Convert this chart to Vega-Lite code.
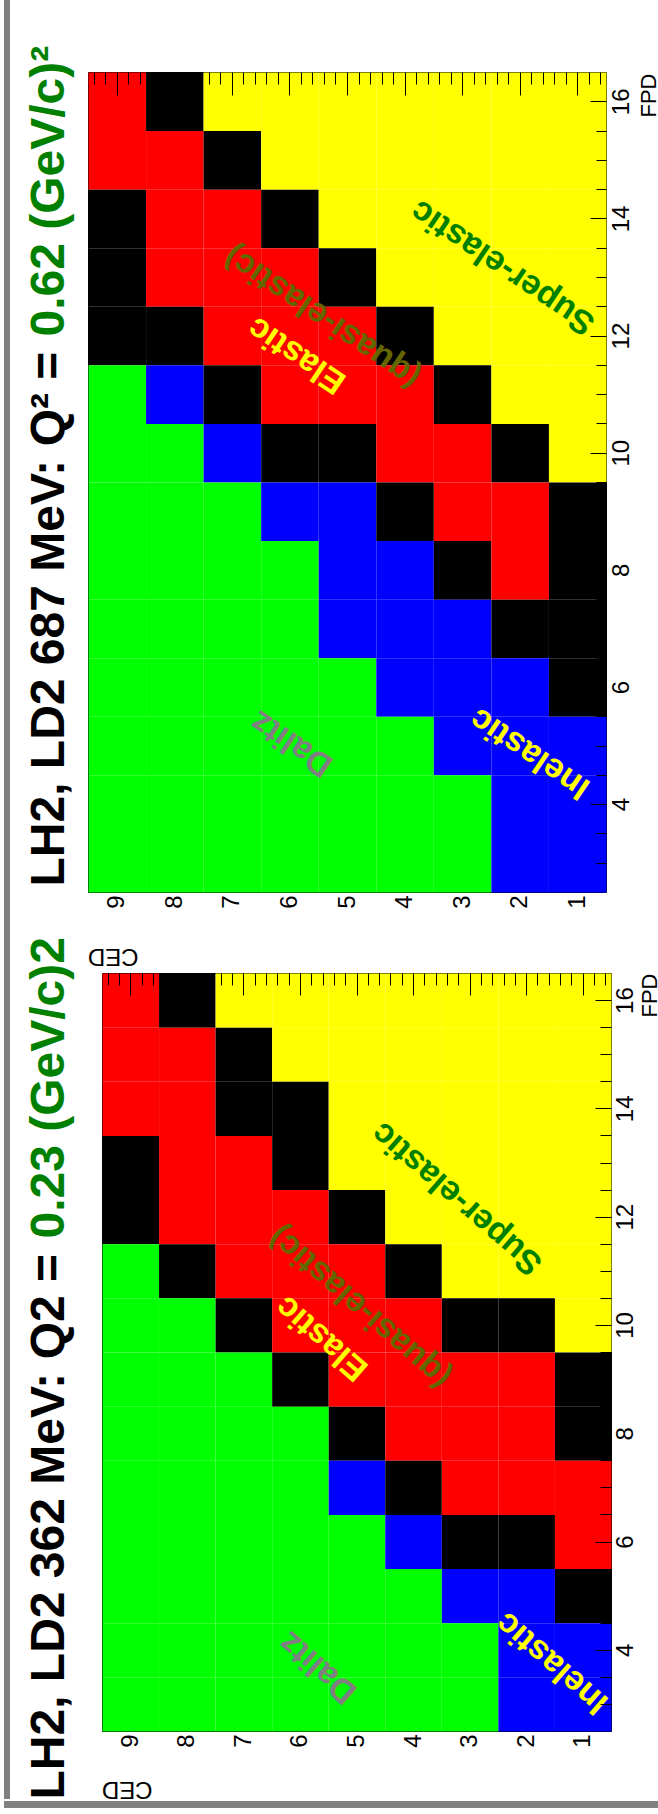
{
  "$schema": "https://vega.github.io/schema/vega-lite/v6.json",
  "background": "white",
  "padding": {"left": 4, "top": 0, "right": 0, "bottom": 0},
  "spacing": 0,
  "config": {
    "view": {"stroke": "black", "strokeWidth": 1},
    "axis": {"grid": false, "labelFont": "Liberation Sans", "titleFont": "Liberation Sans", "labelColor": "black", "titleColor": "black", "tickColor": "black", "tickWidth": 1},
    "text": {"font": "Liberation Sans"}
  },
  "datasets": {
    "cells687": [
      {"ced":9,"fpd":16,"region":"elastic"},{"ced":8,"fpd":16,"region":"edge"},{"ced":7,"fpd":16,"region":"super"},{"ced":6,"fpd":16,"region":"super"},{"ced":5,"fpd":16,"region":"super"},{"ced":4,"fpd":16,"region":"super"},{"ced":3,"fpd":16,"region":"super"},{"ced":2,"fpd":16,"region":"super"},{"ced":1,"fpd":16,"region":"super"},
      {"ced":9,"fpd":15,"region":"elastic"},{"ced":8,"fpd":15,"region":"elastic"},{"ced":7,"fpd":15,"region":"edge"},{"ced":6,"fpd":15,"region":"super"},{"ced":5,"fpd":15,"region":"super"},{"ced":4,"fpd":15,"region":"super"},{"ced":3,"fpd":15,"region":"super"},{"ced":2,"fpd":15,"region":"super"},{"ced":1,"fpd":15,"region":"super"},
      {"ced":9,"fpd":14,"region":"edge"},{"ced":8,"fpd":14,"region":"elastic"},{"ced":7,"fpd":14,"region":"elastic"},{"ced":6,"fpd":14,"region":"edge"},{"ced":5,"fpd":14,"region":"super"},{"ced":4,"fpd":14,"region":"super"},{"ced":3,"fpd":14,"region":"super"},{"ced":2,"fpd":14,"region":"super"},{"ced":1,"fpd":14,"region":"super"},
      {"ced":9,"fpd":13,"region":"edge"},{"ced":8,"fpd":13,"region":"elastic"},{"ced":7,"fpd":13,"region":"elastic"},{"ced":6,"fpd":13,"region":"elastic"},{"ced":5,"fpd":13,"region":"edge"},{"ced":4,"fpd":13,"region":"super"},{"ced":3,"fpd":13,"region":"super"},{"ced":2,"fpd":13,"region":"super"},{"ced":1,"fpd":13,"region":"super"},
      {"ced":9,"fpd":12,"region":"edge"},{"ced":8,"fpd":12,"region":"edge"},{"ced":7,"fpd":12,"region":"elastic"},{"ced":6,"fpd":12,"region":"elastic"},{"ced":5,"fpd":12,"region":"elastic"},{"ced":4,"fpd":12,"region":"edge"},{"ced":3,"fpd":12,"region":"super"},{"ced":2,"fpd":12,"region":"super"},{"ced":1,"fpd":12,"region":"super"},
      {"ced":9,"fpd":11,"region":"dalitz"},{"ced":8,"fpd":11,"region":"inelastic"},{"ced":7,"fpd":11,"region":"edge"},{"ced":6,"fpd":11,"region":"elastic"},{"ced":5,"fpd":11,"region":"elastic"},{"ced":4,"fpd":11,"region":"elastic"},{"ced":3,"fpd":11,"region":"edge"},{"ced":2,"fpd":11,"region":"super"},{"ced":1,"fpd":11,"region":"super"},
      {"ced":9,"fpd":10,"region":"dalitz"},{"ced":8,"fpd":10,"region":"dalitz"},{"ced":7,"fpd":10,"region":"inelastic"},{"ced":6,"fpd":10,"region":"edge"},{"ced":5,"fpd":10,"region":"edge"},{"ced":4,"fpd":10,"region":"elastic"},{"ced":3,"fpd":10,"region":"elastic"},{"ced":2,"fpd":10,"region":"edge"},{"ced":1,"fpd":10,"region":"super"},
      {"ced":9,"fpd":9,"region":"dalitz"},{"ced":8,"fpd":9,"region":"dalitz"},{"ced":7,"fpd":9,"region":"dalitz"},{"ced":6,"fpd":9,"region":"inelastic"},{"ced":5,"fpd":9,"region":"inelastic"},{"ced":4,"fpd":9,"region":"edge"},{"ced":3,"fpd":9,"region":"elastic"},{"ced":2,"fpd":9,"region":"elastic"},{"ced":1,"fpd":9,"region":"edge"},
      {"ced":9,"fpd":8,"region":"dalitz"},{"ced":8,"fpd":8,"region":"dalitz"},{"ced":7,"fpd":8,"region":"dalitz"},{"ced":6,"fpd":8,"region":"dalitz"},{"ced":5,"fpd":8,"region":"inelastic"},{"ced":4,"fpd":8,"region":"inelastic"},{"ced":3,"fpd":8,"region":"edge"},{"ced":2,"fpd":8,"region":"elastic"},{"ced":1,"fpd":8,"region":"edge"},
      {"ced":9,"fpd":7,"region":"dalitz"},{"ced":8,"fpd":7,"region":"dalitz"},{"ced":7,"fpd":7,"region":"dalitz"},{"ced":6,"fpd":7,"region":"dalitz"},{"ced":5,"fpd":7,"region":"inelastic"},{"ced":4,"fpd":7,"region":"inelastic"},{"ced":3,"fpd":7,"region":"inelastic"},{"ced":2,"fpd":7,"region":"edge"},{"ced":1,"fpd":7,"region":"edge"},
      {"ced":9,"fpd":6,"region":"dalitz"},{"ced":8,"fpd":6,"region":"dalitz"},{"ced":7,"fpd":6,"region":"dalitz"},{"ced":6,"fpd":6,"region":"dalitz"},{"ced":5,"fpd":6,"region":"dalitz"},{"ced":4,"fpd":6,"region":"inelastic"},{"ced":3,"fpd":6,"region":"inelastic"},{"ced":2,"fpd":6,"region":"inelastic"},{"ced":1,"fpd":6,"region":"edge"},
      {"ced":9,"fpd":5,"region":"dalitz"},{"ced":8,"fpd":5,"region":"dalitz"},{"ced":7,"fpd":5,"region":"dalitz"},{"ced":6,"fpd":5,"region":"dalitz"},{"ced":5,"fpd":5,"region":"dalitz"},{"ced":4,"fpd":5,"region":"dalitz"},{"ced":3,"fpd":5,"region":"inelastic"},{"ced":2,"fpd":5,"region":"inelastic"},{"ced":1,"fpd":5,"region":"inelastic"},
      {"ced":9,"fpd":4,"region":"dalitz"},{"ced":8,"fpd":4,"region":"dalitz"},{"ced":7,"fpd":4,"region":"dalitz"},{"ced":6,"fpd":4,"region":"dalitz"},{"ced":5,"fpd":4,"region":"dalitz"},{"ced":4,"fpd":4,"region":"dalitz"},{"ced":3,"fpd":4,"region":"dalitz"},{"ced":2,"fpd":4,"region":"inelastic"},{"ced":1,"fpd":4,"region":"inelastic"},
      {"ced":9,"fpd":3,"region":"dalitz"},{"ced":8,"fpd":3,"region":"dalitz"},{"ced":7,"fpd":3,"region":"dalitz"},{"ced":6,"fpd":3,"region":"dalitz"},{"ced":5,"fpd":3,"region":"dalitz"},{"ced":4,"fpd":3,"region":"dalitz"},{"ced":3,"fpd":3,"region":"dalitz"},{"ced":2,"fpd":3,"region":"inelastic"},{"ced":1,"fpd":3,"region":"inelastic"}
    ],
    "cells362": [
      {"ced":9,"fpd":16,"region":"elastic"},{"ced":8,"fpd":16,"region":"edge"},{"ced":7,"fpd":16,"region":"super"},{"ced":6,"fpd":16,"region":"super"},{"ced":5,"fpd":16,"region":"super"},{"ced":4,"fpd":16,"region":"super"},{"ced":3,"fpd":16,"region":"super"},{"ced":2,"fpd":16,"region":"super"},{"ced":1,"fpd":16,"region":"super"},
      {"ced":9,"fpd":15,"region":"elastic"},{"ced":8,"fpd":15,"region":"elastic"},{"ced":7,"fpd":15,"region":"edge"},{"ced":6,"fpd":15,"region":"super"},{"ced":5,"fpd":15,"region":"super"},{"ced":4,"fpd":15,"region":"super"},{"ced":3,"fpd":15,"region":"super"},{"ced":2,"fpd":15,"region":"super"},{"ced":1,"fpd":15,"region":"super"},
      {"ced":9,"fpd":14,"region":"elastic"},{"ced":8,"fpd":14,"region":"elastic"},{"ced":7,"fpd":14,"region":"edge"},{"ced":6,"fpd":14,"region":"edge"},{"ced":5,"fpd":14,"region":"super"},{"ced":4,"fpd":14,"region":"super"},{"ced":3,"fpd":14,"region":"super"},{"ced":2,"fpd":14,"region":"super"},{"ced":1,"fpd":14,"region":"super"},
      {"ced":9,"fpd":13,"region":"edge"},{"ced":8,"fpd":13,"region":"elastic"},{"ced":7,"fpd":13,"region":"elastic"},{"ced":6,"fpd":13,"region":"edge"},{"ced":5,"fpd":13,"region":"super"},{"ced":4,"fpd":13,"region":"super"},{"ced":3,"fpd":13,"region":"super"},{"ced":2,"fpd":13,"region":"super"},{"ced":1,"fpd":13,"region":"super"},
      {"ced":9,"fpd":12,"region":"edge"},{"ced":8,"fpd":12,"region":"elastic"},{"ced":7,"fpd":12,"region":"elastic"},{"ced":6,"fpd":12,"region":"elastic"},{"ced":5,"fpd":12,"region":"edge"},{"ced":4,"fpd":12,"region":"super"},{"ced":3,"fpd":12,"region":"super"},{"ced":2,"fpd":12,"region":"super"},{"ced":1,"fpd":12,"region":"super"},
      {"ced":9,"fpd":11,"region":"dalitz"},{"ced":8,"fpd":11,"region":"edge"},{"ced":7,"fpd":11,"region":"elastic"},{"ced":6,"fpd":11,"region":"elastic"},{"ced":5,"fpd":11,"region":"elastic"},{"ced":4,"fpd":11,"region":"edge"},{"ced":3,"fpd":11,"region":"super"},{"ced":2,"fpd":11,"region":"super"},{"ced":1,"fpd":11,"region":"super"},
      {"ced":9,"fpd":10,"region":"dalitz"},{"ced":8,"fpd":10,"region":"dalitz"},{"ced":7,"fpd":10,"region":"edge"},{"ced":6,"fpd":10,"region":"elastic"},{"ced":5,"fpd":10,"region":"elastic"},{"ced":4,"fpd":10,"region":"elastic"},{"ced":3,"fpd":10,"region":"edge"},{"ced":2,"fpd":10,"region":"edge"},{"ced":1,"fpd":10,"region":"super"},
      {"ced":9,"fpd":9,"region":"dalitz"},{"ced":8,"fpd":9,"region":"dalitz"},{"ced":7,"fpd":9,"region":"dalitz"},{"ced":6,"fpd":9,"region":"edge"},{"ced":5,"fpd":9,"region":"elastic"},{"ced":4,"fpd":9,"region":"elastic"},{"ced":3,"fpd":9,"region":"elastic"},{"ced":2,"fpd":9,"region":"elastic"},{"ced":1,"fpd":9,"region":"edge"},
      {"ced":9,"fpd":8,"region":"dalitz"},{"ced":8,"fpd":8,"region":"dalitz"},{"ced":7,"fpd":8,"region":"dalitz"},{"ced":6,"fpd":8,"region":"dalitz"},{"ced":5,"fpd":8,"region":"edge"},{"ced":4,"fpd":8,"region":"elastic"},{"ced":3,"fpd":8,"region":"elastic"},{"ced":2,"fpd":8,"region":"elastic"},{"ced":1,"fpd":8,"region":"edge"},
      {"ced":9,"fpd":7,"region":"dalitz"},{"ced":8,"fpd":7,"region":"dalitz"},{"ced":7,"fpd":7,"region":"dalitz"},{"ced":6,"fpd":7,"region":"dalitz"},{"ced":5,"fpd":7,"region":"inelastic"},{"ced":4,"fpd":7,"region":"edge"},{"ced":3,"fpd":7,"region":"elastic"},{"ced":2,"fpd":7,"region":"elastic"},{"ced":1,"fpd":7,"region":"elastic"},
      {"ced":9,"fpd":6,"region":"dalitz"},{"ced":8,"fpd":6,"region":"dalitz"},{"ced":7,"fpd":6,"region":"dalitz"},{"ced":6,"fpd":6,"region":"dalitz"},{"ced":5,"fpd":6,"region":"dalitz"},{"ced":4,"fpd":6,"region":"inelastic"},{"ced":3,"fpd":6,"region":"edge"},{"ced":2,"fpd":6,"region":"edge"},{"ced":1,"fpd":6,"region":"elastic"},
      {"ced":9,"fpd":5,"region":"dalitz"},{"ced":8,"fpd":5,"region":"dalitz"},{"ced":7,"fpd":5,"region":"dalitz"},{"ced":6,"fpd":5,"region":"dalitz"},{"ced":5,"fpd":5,"region":"dalitz"},{"ced":4,"fpd":5,"region":"dalitz"},{"ced":3,"fpd":5,"region":"inelastic"},{"ced":2,"fpd":5,"region":"inelastic"},{"ced":1,"fpd":5,"region":"edge"},
      {"ced":9,"fpd":4,"region":"dalitz"},{"ced":8,"fpd":4,"region":"dalitz"},{"ced":7,"fpd":4,"region":"dalitz"},{"ced":6,"fpd":4,"region":"dalitz"},{"ced":5,"fpd":4,"region":"dalitz"},{"ced":4,"fpd":4,"region":"dalitz"},{"ced":3,"fpd":4,"region":"dalitz"},{"ced":2,"fpd":4,"region":"inelastic"},{"ced":1,"fpd":4,"region":"inelastic"},
      {"ced":9,"fpd":3,"region":"dalitz"},{"ced":8,"fpd":3,"region":"dalitz"},{"ced":7,"fpd":3,"region":"dalitz"},{"ced":6,"fpd":3,"region":"dalitz"},{"ced":5,"fpd":3,"region":"dalitz"},{"ced":4,"fpd":3,"region":"dalitz"},{"ced":3,"fpd":3,"region":"dalitz"},{"ced":2,"fpd":3,"region":"inelastic"},{"ced":1,"fpd":3,"region":"inelastic"}
    ],
    "notes687": [
      {"label":"Super-elastic","ced":2.29,"fpd":13.17},
      {"label":"(quasi-elastic)","ced":5.43,"fpd":12.32},
      {"label":"Elastic","ced":5.87,"fpd":11.67},
      {"label":"Dalitz","ced":5.96,"fpd":5.04},
      {"label":"Inelastic","ced":1.82,"fpd":4.87}
    ],
    "notes362": [
      {"label":"Super-elastic","ced":3.22,"fpd":12.34},
      {"label":"(quasi-elastic)","ced":4.94,"fpd":10.33},
      {"label":"Elastic","ced":5.61,"fpd":9.76},
      {"label":"Dalitz","ced":5.68,"fpd":3.68},
      {"label":"Inelastic","ced":1.54,"fpd":3.76}
    ]
  },
  "vconcat": [
    {
      "bounds": "flush",
      "spacing": 78,
      "hconcat": [
        {"width": 6, "height": 1799, "data": {"values": []}, "mark": "point", "encoding": {}, "view": {"fill": "#808080", "stroke": null}},
        {
          "bounds": "flush",
          "spacing": 0,
          "vconcat": [
            {"width": 10, "height": 72, "data": {"values": []}, "mark": "point", "encoding": {}, "view": {"fill": "white", "stroke": null}},
            {
              "bounds": "flush",
              "spacing": 81,
              "vconcat": [
                {
                  "width": 518,
                  "height": 820,
                  "data": {"name": "cells687"},
                  "layer": [
                    {
                      "mark": {"type": "rect"},
                      "encoding": {
                        "x": {"field": "ced", "type": "quantitative", "bin": {"anchor": 0.5, "step": 1, "extent": [0.5, 9.5], "nice": false}, "scale": {"domain": [0.5, 9.5], "reverse": true, "nice": false, "zero": false}, "axis": null},
                        "y": {"field": "fpd", "type": "quantitative", "bin": {"anchor": 0.5, "step": 1, "extent": [2.5, 16.5], "nice": false}, "scale": {"domain": [2.5, 16.5], "nice": false, "zero": false}, "axis": null},
                        "color": {"field": "region", "type": "nominal", "scale": {"domain": ["elastic", "edge", "super", "dalitz", "inelastic"], "range": ["#ff0000", "#000000", "#ffff00", "#00ff00", "#0000ff"]}, "legend": null}
                      }
                    },
                    {
                      "mark": {"type": "point", "opacity": 0},
                      "encoding": {
                        "x": {"field": "ced", "type": "quantitative", "scale": {"domain": [0.5, 9.5], "reverse": true, "nice": false, "zero": false},
                              "axis": {"values": [1, 2, 3, 4, 5, 6, 7, 8, 9], "format": "d", "ticks": false, "domain": false, "labelAngle": -90, "labelAlign": "right", "labelBaseline": "middle", "labelPadding": 3, "labelFontSize": 24, "labelFlush": false, "labelOverlap": false,
                                       "title": "CED", "titleFontSize": 24, "titleFontWeight": "normal", "titleAngle": 180, "titleAlign": "left", "titleBaseline": "alphabetic", "titleX": 50, "titleY": 56}},
                        "y": {"field": "fpd", "type": "quantitative", "scale": {"domain": [2.5, 16.5], "nice": false, "zero": false},
                              "axis": {"orient": "right", "values": [4, 6, 8, 10, 12, 14, 16], "format": "d", "ticks": false, "domain": false, "labelAngle": -90, "labelAlign": "center", "labelBaseline": "top", "labelPadding": 3, "labelFontSize": 24, "labelFlush": false, "labelOverlap": false,
                                       "title": "FPD", "titleFontSize": 22, "titleFontWeight": "normal", "titleAngle": -90, "titleAlign": "right", "titleBaseline": "alphabetic", "titleX": 49, "titleY": 1}}
                      }
                    },
                    {
                      "mark": {"type": "point", "opacity": 0},
                      "encoding": {
                        "x": {"field": "ced", "type": "quantitative", "scale": {"domain": [0.5, 9.5], "reverse": true, "nice": false, "zero": false},
                              "axis": {"values": [1, 2, 3, 4, 5, 6, 7, 8, 9], "labels": false, "domain": false, "tickSize": -23, "title": null, "zindex": 1}},
                        "y": {"field": "fpd", "type": "quantitative", "scale": {"domain": [2.5, 16.5], "nice": false, "zero": false},
                              "axis": {"orient": "right", "values": [4, 6, 8, 10, 12, 14, 16], "labels": false, "domain": false, "tickSize": -16, "title": null, "zindex": 1}}
                      }
                    },
                    {
                      "mark": {"type": "point", "opacity": 0},
                      "encoding": {
                        "x": {"field": "ced", "type": "quantitative", "scale": {"domain": [0.5, 9.5], "reverse": true, "nice": false, "zero": false},
                              "axis": {"values": [0.6, 0.8, 1.2, 1.4, 1.6, 1.8, 2.2, 2.4, 2.6, 2.8, 3.2, 3.4, 3.6, 3.8, 4.2, 4.4, 4.6, 4.8, 5.2, 5.4, 5.6, 5.8, 6.2, 6.4, 6.6, 6.8, 7.2, 7.4, 7.6, 7.8, 8.2, 8.4, 8.6, 8.8, 9.2, 9.4], "labels": false, "domain": false, "tickSize": -12, "title": null, "zindex": 1}},
                        "y": {"field": "fpd", "type": "quantitative", "scale": {"domain": [2.5, 16.5], "nice": false, "zero": false},
                              "axis": {"orient": "right", "values": [3, 3.5, 4.5, 5, 5.5, 6.5, 7, 7.5, 8.5, 9, 9.5, 10.5, 11, 11.5, 12.5, 13, 13.5, 14.5, 15, 15.5], "labels": false, "domain": false, "tickSize": -10, "title": null, "zindex": 1}}
                      }
                    },
                    {
                      "data": {"name": "notes687"},
                      "mark": {"type": "text", "angle": 214, "fontWeight": "bold", "align": "center", "baseline": "middle"},
                      "encoding": {
                        "x": {"field": "ced", "type": "quantitative", "scale": {"domain": [0.5, 9.5], "reverse": true, "nice": false, "zero": false}, "axis": null},
                        "y": {"field": "fpd", "type": "quantitative", "scale": {"domain": [2.5, 16.5], "nice": false, "zero": false},
                              "axis": {"orient": "left", "labels": false, "ticks": false, "domain": false, "title": "LH2, LD2 687 MeV: Q² =", "titleFontSize": 48, "titleFontWeight": "bold", "titleColor": "#000000", "titleAngle": -90, "titleAlign": "left", "titleBaseline": "alphabetic", "titleX": -25, "titleY": 814}},
                        "text": {"field": "label"},
                        "color": {"field": "label", "type": "nominal", "scale": {"domain": ["Dalitz", "Inelastic", "Elastic", "(quasi-elastic)", "Super-elastic"], "range": ["#808080", "#ffff00", "#ffff00", "#666600", "#008000"]}, "legend": null},
                        "size": {"field": "label", "type": "nominal", "scale": {"domain": ["Dalitz", "Inelastic", "Elastic", "(quasi-elastic)", "Super-elastic"], "range": [34, 34, 34, 34, 29]}, "legend": null}
                      }
                    },
                    {
                      "mark": {"type": "point", "opacity": 0},
                      "encoding": {
                        "x": {"field": "ced", "type": "quantitative", "scale": {"domain": [0.5, 9.5], "reverse": true, "nice": false, "zero": false}, "axis": null},
                        "y": {"field": "fpd", "type": "quantitative", "scale": {"domain": [2.5, 16.5], "nice": false, "zero": false},
                              "axis": {"orient": "left", "labels": false, "ticks": false, "domain": false, "title": "0.62 (GeV/c)²", "titleFontSize": 48, "titleFontWeight": "bold", "titleColor": "#008000", "titleAngle": -90, "titleAlign": "left", "titleBaseline": "alphabetic", "titleX": -25, "titleY": 264}}
                      }
                    }
                  ],
                  "resolve": {"axis": {"x": "independent", "y": "independent"}, "scale": {"color": "independent", "size": "independent"}}
                },
                {
                  "bounds": "flush",
                  "spacing": 0,
                  "hconcat": [
                    {"width": 14, "height": 10, "data": {"values": []}, "mark": "point", "encoding": {}, "view": {"stroke": null}},
                    {
                      "width": 509,
                      "height": 758,
                      "data": {"name": "cells362"},
                      "layer": [
                        {
                          "mark": {"type": "rect"},
                          "encoding": {
                            "x": {"field": "ced", "type": "quantitative", "bin": {"anchor": 0.5, "step": 1, "extent": [0.5, 9.5], "nice": false}, "scale": {"domain": [0.5, 9.5], "reverse": true, "nice": false, "zero": false}, "axis": null},
                            "y": {"field": "fpd", "type": "quantitative", "bin": {"anchor": 0.5, "step": 1, "extent": [2.5, 16.5], "nice": false}, "scale": {"domain": [2.5, 16.5], "nice": false, "zero": false}, "axis": null},
                            "color": {"field": "region", "type": "nominal", "scale": {"domain": ["elastic", "edge", "super", "dalitz", "inelastic"], "range": ["#ff0000", "#000000", "#ffff00", "#00ff00", "#0000ff"]}, "legend": null}
                          }
                        },
                        {
                          "mark": {"type": "point", "opacity": 0},
                          "encoding": {
                            "x": {"field": "ced", "type": "quantitative", "scale": {"domain": [0.5, 9.5], "reverse": true, "nice": false, "zero": false},
                                  "axis": {"values": [1, 2, 3, 4, 5, 6, 7, 8, 9], "format": "d", "ticks": false, "domain": false, "labelAngle": -90, "labelAlign": "right", "labelBaseline": "middle", "labelPadding": 3, "labelFontSize": 24, "labelFlush": false, "labelOverlap": false,
                                           "title": "CED", "titleFontSize": 24, "titleFontWeight": "normal", "titleAngle": 180, "titleAlign": "left", "titleBaseline": "alphabetic", "titleX": 50, "titleY": 50}},
                            "y": {"field": "fpd", "type": "quantitative", "scale": {"domain": [2.5, 16.5], "nice": false, "zero": false},
                                  "axis": {"orient": "right", "values": [4, 6, 8, 10, 12, 14, 16], "format": "d", "ticks": false, "domain": false, "labelAngle": -90, "labelAlign": "center", "labelBaseline": "top", "labelPadding": 2, "labelFontSize": 24, "labelFlush": false, "labelOverlap": false,
                                           "title": "FPD", "titleFontSize": 22, "titleFontWeight": "normal", "titleAngle": -90, "titleAlign": "right", "titleBaseline": "alphabetic", "titleX": 45, "titleY": 0}}
                          }
                        },
                        {
                          "mark": {"type": "point", "opacity": 0},
                          "encoding": {
                            "x": {"field": "ced", "type": "quantitative", "scale": {"domain": [0.5, 9.5], "reverse": true, "nice": false, "zero": false},
                                  "axis": {"values": [1, 2, 3, 4, 5, 6, 7, 8, 9], "labels": false, "domain": false, "tickSize": -22, "title": null, "zindex": 1}},
                            "y": {"field": "fpd", "type": "quantitative", "scale": {"domain": [2.5, 16.5], "nice": false, "zero": false},
                                  "axis": {"orient": "right", "values": [4, 6, 8, 10, 12, 14, 16], "labels": false, "domain": false, "tickSize": -16, "title": null, "zindex": 1}}
                          }
                        },
                        {
                          "mark": {"type": "point", "opacity": 0},
                          "encoding": {
                            "x": {"field": "ced", "type": "quantitative", "scale": {"domain": [0.5, 9.5], "reverse": true, "nice": false, "zero": false},
                                  "axis": {"values": [0.6, 0.8, 1.2, 1.4, 1.6, 1.8, 2.2, 2.4, 2.6, 2.8, 3.2, 3.4, 3.6, 3.8, 4.2, 4.4, 4.6, 4.8, 5.2, 5.4, 5.6, 5.8, 6.2, 6.4, 6.6, 6.8, 7.2, 7.4, 7.6, 7.8, 8.2, 8.4, 8.6, 8.8, 9.2, 9.4], "labels": false, "domain": false, "tickSize": -12, "title": null, "zindex": 1}},
                            "y": {"field": "fpd", "type": "quantitative", "scale": {"domain": [2.5, 16.5], "nice": false, "zero": false},
                                  "axis": {"orient": "right", "values": [3, 3.5, 4.5, 5, 5.5, 6.5, 7, 7.5, 8.5, 9, 9.5, 10.5, 11, 11.5, 12.5, 13, 13.5, 14.5, 15, 15.5], "labels": false, "domain": false, "tickSize": -11, "title": null, "zindex": 1}}
                          }
                        },
                        {
                          "data": {"name": "notes362"},
                          "mark": {"type": "text", "angle": 221, "fontWeight": "bold", "align": "center", "baseline": "middle"},
                          "encoding": {
                            "x": {"field": "ced", "type": "quantitative", "scale": {"domain": [0.5, 9.5], "reverse": true, "nice": false, "zero": false}, "axis": null},
                            "y": {"field": "fpd", "type": "quantitative", "scale": {"domain": [2.5, 16.5], "nice": false, "zero": false},
                                  "axis": {"orient": "left", "labels": false, "ticks": false, "domain": false, "title": "LH2, LD2 362 MeV: Q2 =", "titleFontSize": 48, "titleFontWeight": "bold", "titleColor": "#000000", "titleAngle": -90, "titleAlign": "left", "titleBaseline": "alphabetic", "titleX": -39, "titleY": 826}},
                            "text": {"field": "label"},
                            "color": {"field": "label", "type": "nominal", "scale": {"domain": ["Dalitz", "Inelastic", "Elastic", "(quasi-elastic)", "Super-elastic"], "range": ["#808080", "#ffff00", "#ffff00", "#666600", "#008000"]}, "legend": null},
                            "size": {"field": "label", "type": "nominal", "scale": {"domain": ["Dalitz", "Inelastic", "Elastic", "(quasi-elastic)", "Super-elastic"], "range": [34, 34, 34, 34, 29]}, "legend": null}
                          }
                        },
                        {
                          "mark": {"type": "point", "opacity": 0},
                          "encoding": {
                            "x": {"field": "ced", "type": "quantitative", "scale": {"domain": [0.5, 9.5], "reverse": true, "nice": false, "zero": false}, "axis": null},
                            "y": {"field": "fpd", "type": "quantitative", "scale": {"domain": [2.5, 16.5], "nice": false, "zero": false},
                                  "axis": {"orient": "left", "labels": false, "ticks": false, "domain": false, "title": "0.23 (GeV/c)2", "titleFontSize": 48, "titleFontWeight": "bold", "titleColor": "#008000", "titleAngle": -90, "titleAlign": "left", "titleBaseline": "alphabetic", "titleX": -39, "titleY": 265}}
                          }
                        }
                      ],
                      "resolve": {"axis": {"x": "independent", "y": "independent"}, "scale": {"color": "independent", "size": "independent"}}
                    }
                  ]
                }
              ]
            }
          ]
        }
      ]
    },
    {"width": 654, "height": 7, "data": {"values": []}, "mark": "point", "encoding": {}, "view": {"fill": "#808080", "stroke": null}}
  ]
}
